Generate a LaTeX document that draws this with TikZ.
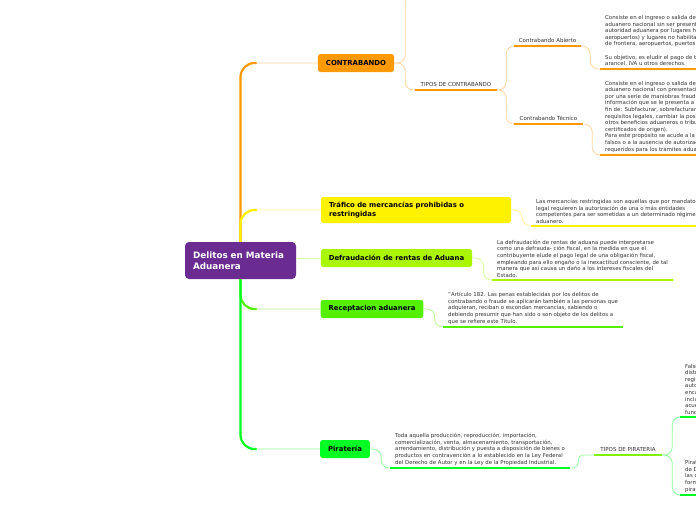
\documentclass[tikz,border=0pt]{standalone}
\usepackage{fontspec}
\setmainfont{DejaVu Sans}
\usepackage{tikz}
\usepackage{xcolor}
\usetikzlibrary{calc}

\definecolor{morado}{RGB}{106,44,145}
\definecolor{naranja}{RGB}{255,153,0}
\definecolor{naranjaclaro}{RGB}{255,214,160}
\definecolor{amarillo}{RGB}{255,242,0}
\definecolor{amarilloclaro}{RGB}{255,248,150}
\definecolor{lima}{RGB}{170,245,0}
\definecolor{limaclaro}{RGB}{220,250,160}
\definecolor{verde}{RGB}{85,240,0}
\definecolor{verdeclaro}{RGB}{185,248,150}
\definecolor{verdevivo}{RGB}{0,255,34}
\definecolor{verdevivoclaro}{RGB}{150,255,160}
\definecolor{verdemedio}{RGB}{130,240,0}
\definecolor{texto}{RGB}{51,51,51}

\begin{document}
\begin{tikzpicture}[x=1pt,y=-1pt,
	rama/.style={rounded corners=2.5pt,minimum height=18pt,inner xsep=8pt,font=\fontsize{6.9}{8.6}\selectfont\bfseries},
	etiqueta/.style={anchor=south,inner xsep=4pt,inner ysep=3pt,font=\fontsize{5.5}{6.5}\selectfont,text=texto},
	nota/.style={anchor=south west,align=left,inner xsep=5pt,inner ysep=2.5pt,font=\fontsize{5.4}{6.6}\selectfont,text=texto},
	enlace/.style={line width=0.8pt,rounded corners=8pt},
	tronco/.style={line width=2.2pt,rounded corners=14pt},
	subraya/.style={line width=2.5pt}]
				\fill[white] (0,0) rectangle (696,520);
				\useasboundingbox (0,0) rectangle (696,520);
				\clip (0,0) rectangle (696,520);

				\node[fill=morado,text=white,rounded corners=4pt,minimum width=111pt,minimum height=37pt,inner xsep=8pt,text width=95pt,align=left,font=\fontsize{8.8}{11.5}\selectfont\bfseries] (centro) at (240.5,260.5) {Delitos en Materia\\Aduanera};

				\node[rama,fill=naranja,minimum width=76pt] (contrabando) at (356,63) {CONTRABANDO};
				\node[rama,fill=amarillo,minimum height=26pt,text width=174pt,align=left] (trafico) at (416,210) {Tráfico de mercancías prohibidas o\\restringidas};
				\node[rama,fill=lima,minimum width=151pt] (defraudacion) at (396.5,258) {Defraudación de rentas de Aduana};
				\node[rama,fill=verde,minimum width=102pt] (receptacion) at (372,309) {Receptacion aduanera};
				\node[rama,fill=verdevivo,minimum width=48pt] (pirateria) at (345,449) {Piratería};

				\node[etiqueta,minimum width=82pt] (tiposcontra) at (456,90) {TIPOS DE CONTRABANDO};
				\node[etiqueta,minimum width=67pt] (abierto) at (547.5,46) {Contrabando Abierto};
				\node[etiqueta,minimum width=69pt] (tecnico) at (548.5,124) {Contrabando Técnico};
				\node[etiqueta,minimum width=68pt] (tipospira) at (628,455) {TIPOS DE PIRATERIA};
				\coordinate (arriba) at (430,-6);

				\node[nota] (notaabierto) at (600,69) {Consiste en el ingreso o salida de mercancías del territorio\\
					aduanero nacional sin ser presentadas ante la\\
					autoridad aduanera por lugares habilitados (puertos,\\
					aeropuertos) y lugares no habilitados (puntos\\
					de frontera, aeropuertos, puertos clandestinos).\\[6.6pt]
					Su objetivo, es eludir el pago de tributos como el\\
					arancel, IVA u otros derechos.};
				\node[nota] (notatecnico) at (600,155) {Consiste en el ingreso o salida de mercancías del territorio\\
					aduanero nacional con presentación ante la autoridad, pero\\
					por una serie de maniobras fraudulentas se altera la\\
					información que se le presenta a la autoridad, con el\\
					fin de: Subfacturar, sobrefacturar, evadir el cumplimiento de\\
					requisitos legales, cambiar la posición arancelaria u obtener\\
					otros beneficios aduaneros o tributarios (devoluciones,\\
					certificados de origen).\\
					Para este propósito se acude a la presentación de documentos\\
					falsos o a la ausencia de autorizaciones o documentos\\
					requeridos para los trámites aduaneros.};
				\node[nota] (notatrafico) at (531,226) {Las mercancías restringidas son aquellas que por mandato\\
					legal requieren la autorización de una o más entidades\\
					competentes para ser sometidas a un determinado régimen\\
					aduanero.};
				\node[nota] (notadefraudacion) at (492,280) {La defraudación de rentas de aduana puede interpretarse\\
					como una defrauda- ción fiscal, en la medida en que el\\
					contribuyente elude el pago legal de una obligación fiscal,\\
					empleando para ello engaño o la inexactitud consciente, de tal\\
					manera que así causa un daño a los intereses fiscales del\\
					Estado.};
				\node[nota] (notareceptacion) at (443,327) {"Artículo 182. Las penas establecidas por los delitos de\\
					contrabando o fraude se aplicarán también a las personas que\\
					adquieran, reciban o escondan mercancías, sabiendo o\\
					debiendo presumir que han sido o son objeto de los delitos a\\
					que se refiere este Título.};
				\node[nota] (notapirateria) at (390,468) {Toda aquella producción, reproducción, importación,\\
					comercialización, venta, almacenamiento, transportación,\\
					arrendamiento, distribución y puesta a disposición de bienes o\\
					productos en contravención a lo establecido en la Ley Federal\\
					del Derecho de Autor y en la Ley de la Propiedad Industrial.};
				\node[nota] (notafalsificacion) at (680,417) {Falsificación de marcas: consiste en la elaboración,\\
					distribución y venta de productos con marcas\\
					registradas, sin contar con la debida\\
					autorización de su titular, productos\\
					encaminados a confundir al consumidor,\\
					incluyendo empaques y etiquetas, de\\
					acuerdo a su apariencia y\\
					funcionamiento.};
				\node[nota] (notaderechos) at (680,495) {Piratería de obras protegidas por la Ley Federal\\
					de Derechos de Autor: consiste en reproducir\\
					las obras sin autorización en cualquiera de sus\\
					formas, actividad conocida comúnmente como\\
					piratería.};

				\draw[enlace,naranjaclaro,rounded corners=14pt] (centro.north) |- (contrabando.west);
				\draw[tronco,naranja] (centro.north) |- ($(centro.north |- contrabando.west)+(16,0)$);
				\draw[enlace,amarilloclaro,rounded corners=14pt] (centro.north) |- (trafico.west);
				\draw[tronco,amarillo] (centro.north) |- ($(centro.north |- trafico.west)+(16,0)$);
				\draw[enlace,limaclaro] (centro.east |- defraudacion.west) -- (defraudacion.west);
				\draw[enlace,verdeclaro,rounded corners=14pt] (centro.south) |- (receptacion.west);
				\draw[tronco,verde] (centro.south) |- ($(centro.south |- receptacion.west)+(16,0)$);
				\draw[enlace,verdevivoclaro,rounded corners=14pt] (centro.south) |- (pirateria.west);
				\draw[tronco,verdevivo] (centro.south) |- ($(centro.south |- pirateria.west)+(16,0)$);

				\draw[enlace,naranjaclaro] (contrabando.east) -- ++(11,0) |- (arriba);
				\draw[enlace,naranjaclaro] (contrabando.east) -- ++(11,0) |- (tiposcontra.south west);
				\draw[enlace,naranjaclaro] (tiposcontra.south east) -- ++(9,0) |- (abierto.south west);
				\draw[enlace,naranjaclaro] (tiposcontra.south east) -- ++(9,0) |- (tecnico.south west);
				\draw[enlace,naranjaclaro] (abierto.south east) -- ++(9,0) |- (notaabierto.south west);
				\draw[enlace,naranjaclaro] (tecnico.south east) -- ++(9,0) |- (notatecnico.south west);
				\draw[enlace,amarilloclaro] (trafico.east) -- ++(11,0) |- (notatrafico.south west);
				\draw[enlace,limaclaro] (defraudacion.east) -- ++(11,0) |- (notadefraudacion.south west);
				\draw[enlace,verdeclaro] (receptacion.east) -- ++(11,0) |- (notareceptacion.south west);
				\draw[enlace,verdevivoclaro] (pirateria.east) -- ++(11,0) |- (notapirateria.south west);
				\draw[enlace,verdevivoclaro,rounded corners=5pt] (notapirateria.south east) -- ++(8,0) |- (tipospira.south west);
				\draw[enlace,verdevivoclaro] (tipospira.south east) -- ++(10,0) |- (notafalsificacion.south west);
				\draw[enlace,verdevivoclaro] (tipospira.south east) -- ++(10,0) |- (notaderechos.south west);

				\draw[subraya,naranja] (tiposcontra.south west) -- (tiposcontra.south east);
				\draw[subraya,naranja] (abierto.south west) -- (abierto.south east);
				\draw[subraya,naranja] (tecnico.south west) -- (tecnico.south east);
				\draw[subraya,naranja] (notaabierto.south west) -- (notaabierto.south east);
				\draw[subraya,naranja] (notatecnico.south west) -- (notatecnico.south east);
				\draw[subraya,amarillo] (notatrafico.south west) -- (notatrafico.south east);
				\draw[subraya,lima] (notadefraudacion.south west) -- (notadefraudacion.south east);
				\draw[subraya,verde] (notareceptacion.south west) -- (notareceptacion.south east);
				\draw[subraya,verdevivo] (notapirateria.south west) -- (notapirateria.south east);
				\draw[subraya,verdemedio] (tipospira.south west) -- (tipospira.south east);
				\draw[subraya,verdevivo] (notafalsificacion.south west) -- (notafalsificacion.south east);
				\draw[subraya,verdevivo] (notaderechos.south west) -- (notaderechos.south east);
		\end{tikzpicture}
\end{document}
